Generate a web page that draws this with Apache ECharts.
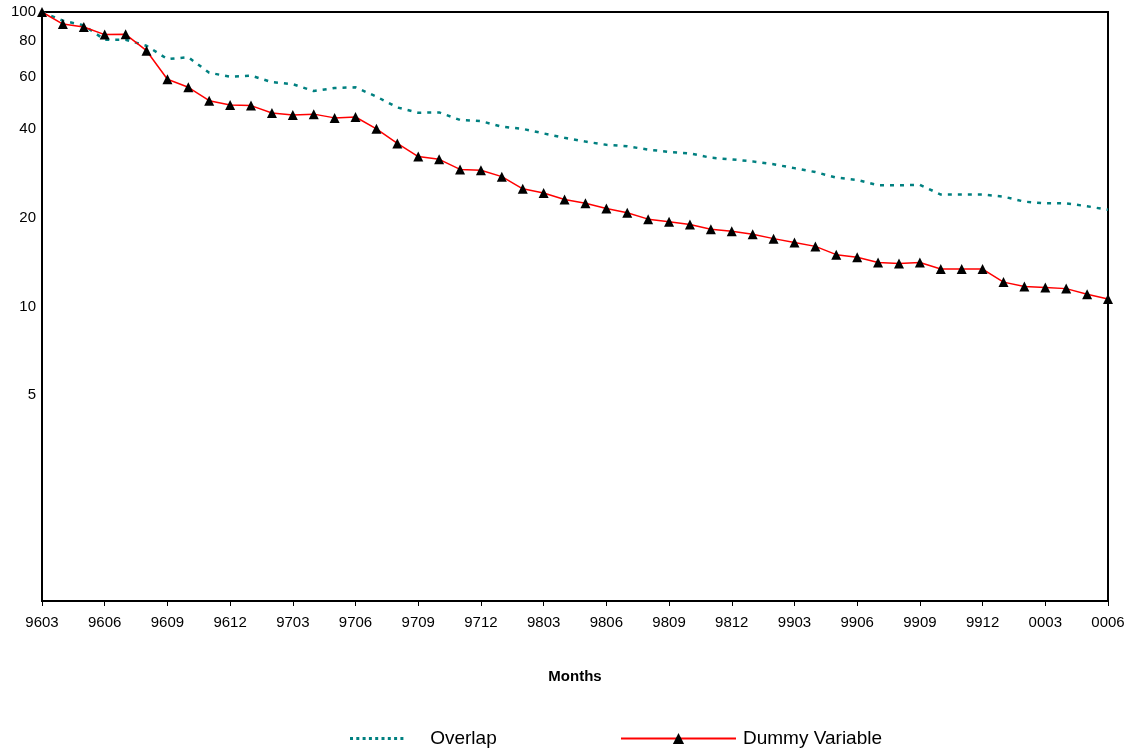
<!DOCTYPE html>
<html>
<head>
<meta charset="utf-8">
<script src="https://cdn.jsdelivr.net/npm/echarts@6/dist/echarts.min.js"></script>
<style>
  html, body { margin: 0; padding: 0; background: #fff; }
  #chart { width: 1129px; height: 753px; }
</style>
</head>
<body>
<div id="chart"></div>
<script>
const months = ['9603','9604','9605','9606','9607','9608','9609','9610','9611','9612',
  '9701','9702','9703','9704','9705','9706','9707','9708','9709','9710','9711','9712',
  '9801','9802','9803','9804','9805','9806','9807','9808','9809','9810','9811','9812',
  '9901','9902','9903','9904','9905','9906','9907','9908','9909','9910','9911','9912',
  '0001','0002','0003','0004','0005','0006'];

const overlap = [100, 93.4, 90.1, 80.5, 80.5, 76.8, 69.2, 70.2, 62.2, 60.3, 60.8, 57.8, 56.9, 53.9, 55.2, 55.5,
  51.6, 47.4, 45.5, 45.6, 43.0, 42.6, 40.8, 40.1, 38.7, 37.4, 36.3, 35.4, 35.0, 34.1, 33.5, 33.1,
  32.0, 31.6, 31.1, 30.4, 29.5, 28.6, 27.4, 26.9, 25.8, 25.8, 25.9, 24.0, 24.0, 24.0, 23.6, 22.7,
  22.4, 22.4, 21.9, 21.3];

const dummyVariable = [100, 91.0, 88.9, 83.8, 84.0, 73.9, 59.1, 55.5, 50.0, 48.3, 48.1, 45.4, 44.7, 45.0, 43.7, 44.0,
  40.1, 35.8, 32.3, 31.6, 29.2, 29.0, 27.6, 25.1, 24.3, 23.1, 22.4, 21.5, 20.8, 19.8, 19.4, 19.0,
  18.3, 18.0, 17.6, 17.0, 16.5, 16.0, 15.0, 14.7, 14.1, 14.0, 14.1, 13.4, 13.4, 13.4, 12.1, 11.7,
  11.6, 11.5, 11.0, 10.6];

const yTickLabels = [5, 10, 20, 40, 60, 80, 100];

const FONT = '"Liberation Sans", Arial, Helvetica, sans-serif';

// dotted-line legend icon (9 short dashes)
const dottedIcon = 'path://' + Array.from({ length: 9 }, (_, i) => 'M' + (i * 6.3) + ',0h3v3h-3z').join(' ');

const chart = echarts.init(document.getElementById('chart'), null, { renderer: 'canvas' });

chart.setOption({
  backgroundColor: '#ffffff',
  animation: false,
  textStyle: { fontFamily: FONT, color: '#000' },
  grid: {
    left: 42, right: 21, top: 12, bottom: 152,
    show: true, borderColor: '#000', borderWidth: 2,
    containLabel: false, outerBoundsMode: 'none'
  },
  legend: [
    {
      data: [{ name: 'Overlap', icon: dottedIcon }],
      left: 345, top: 724,
      itemWidth: 55, itemHeight: 3,
      textStyle: { fontFamily: FONT, fontSize: 19, color: '#000', padding: [0, 0, 0, 21] }
    },
    {
      data: ['Dummy Variable'],
      left: 615, top: 724,
      itemWidth: 115, itemHeight: 14,
      textStyle: { fontFamily: FONT, fontSize: 19, color: '#000', padding: [0, 0, 0, 2] }
    }
  ],
  xAxis: {
    type: 'category',
    data: months,
    boundaryGap: false,
    name: 'Months',
    nameLocation: 'middle',
    nameGap: 68,
    nameTextStyle: { fontFamily: FONT, fontSize: 15, fontWeight: 'bold', color: '#000' },
    axisLine: { lineStyle: { color: '#000', width: 2 } },
    axisTick: { show: true, interval: 2, length: 5, inside: false, lineStyle: { color: '#000', width: 1 } },
    axisLabel: { interval: 2, margin: 14, fontFamily: FONT, fontSize: 15, color: '#000' },
    splitLine: { show: false }
  },
  yAxis: [
    {
      type: 'log',
      logBase: 10,
      min: 1,
      max: 100,
      position: 'left',
      axisLine: { show: true, lineStyle: { color: '#000', width: 2 } },
      axisTick: { show: false },
      axisLabel: { show: false },
      splitLine: { show: false }
    },
    {
      type: 'value',
      min: 0,
      max: 2,
      position: 'left',
      axisLine: { show: false },
      axisTick: { show: false },
      splitLine: { show: false },
      axisLabel: {
        customValues: yTickLabels.map(v => Math.log10(v)),
        formatter: v => String(Math.round(Math.pow(10, v))),
        margin: 6,
        fontFamily: FONT, fontSize: 15, color: '#000'
      }
    }
  ],
  series: [
    {
      name: 'Overlap',
      type: 'line',
      yAxisIndex: 0,
      data: overlap,
      showSymbol: false,
      symbol: 'none',
      clip: false,
      color: '#008080',
      lineStyle: { color: '#008080', width: 2.5, type: [4, 6] },
      itemStyle: { color: '#008080' }
    },
    {
      name: 'Dummy Variable',
      type: 'line',
      yAxisIndex: 0,
      data: dummyVariable,
      symbol: 'triangle',
      symbolSize: 10,
      showAllSymbol: true,
      clip: false,
      color: '#000',
      lineStyle: { color: '#ff0000', width: 1.5 },
      itemStyle: { color: '#000' }
    }
  ]
});
</script>
</body>
</html>
